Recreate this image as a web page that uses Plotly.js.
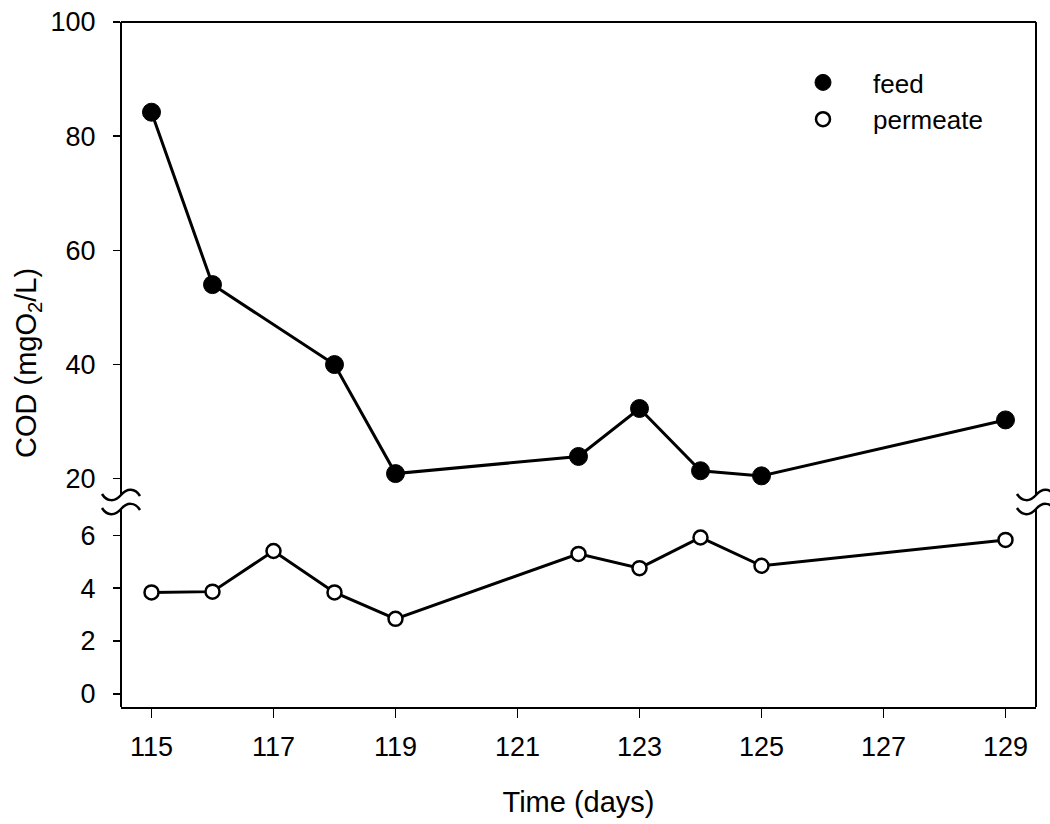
<!DOCTYPE html>
<html>
<head>
<meta charset="utf-8">
<script src="https://cdn.plot.ly/plotly-3.0.1.min.js"></script>
<style>html,body{margin:0;padding:0;background:#fff;}#chart{width:1050px;height:824px;}</style>
</head>
<body>
<div id="chart"></div>
<script>
// Data
const feedDays = [115, 116, 118, 119, 122, 123, 124, 125, 129];
const feedCOD = [84.2, 54.0, 40.0, 20.9, 23.9, 32.3, 21.4, 20.5, 30.3];
const permeateDays = [115, 116, 117, 118, 119, 122, 123, 124, 125, 129];
const permeateCOD = [3.84, 3.87, 5.41, 3.84, 2.84, 5.30, 4.76, 5.92, 4.85, 5.83];
const xTicks = [115, 117, 119, 121, 123, 125, 127, 129];
const topTicks = [20, 40, 60, 80, 100];
const bottomTicks = [0, 2, 4, 6];

const W = 1050, H = 824;
const L = 121, R = 1036, T = 22, B = 707;
const PW = R - L, PH = B - T;
const breakTop = 495, breakBot = 509;
const PX = px => (px - L) / PW;
const PY = py => (B - py) / PH;

function wave(cx, cy) {
  const p = [[cx - 19, cy - 1], [cx - 14, cy + 7], [cx - 6, cy + 7], [cx, cy],
             [cx + 6, cy - 7], [cx + 14, cy - 7], [cx + 19, cy + 1]];
  const q = p.map(([x, y]) => PX(x).toFixed(5) + ',' + PY(y).toFixed(5));
  return 'M' + q[0] + ' C' + q[1] + ' ' + q[2] + ' ' + q[3] + ' C' + q[4] + ' ' + q[5] + ' ' + q[6];
}
const lineStyle = {color: '#000', width: 2};
const shapes = [
  {type: 'line', xref: 'paper', yref: 'paper', x0: 0, x1: 1, y0: 1, y1: 1, line: lineStyle},
  {type: 'line', xref: 'paper', yref: 'paper', x0: 0, x1: 0, y0: PY(breakTop), y1: 1, line: lineStyle},
  {type: 'line', xref: 'paper', yref: 'paper', x0: 0, x1: 0, y0: 0, y1: PY(breakBot), line: lineStyle},
  {type: 'line', xref: 'paper', yref: 'paper', x0: 1, x1: 1, y0: PY(breakTop), y1: 1, line: lineStyle},
  {type: 'line', xref: 'paper', yref: 'paper', x0: 1, x1: 1, y0: 0, y1: PY(breakBot), line: lineStyle},
  {type: 'path', xref: 'paper', yref: 'paper', path: wave(L, breakTop), line: {color: '#000', width: 2.5}},
  {type: 'path', xref: 'paper', yref: 'paper', path: wave(L, breakBot), line: {color: '#000', width: 2.5}},
  {type: 'path', xref: 'paper', yref: 'paper', path: wave(R, breakTop), line: {color: '#000', width: 2.5}},
  {type: 'path', xref: 'paper', yref: 'paper', path: wave(R, breakBot), line: {color: '#000', width: 2.5}}
];

const font = {family: 'Liberation Sans, Arial, sans-serif', color: '#000'};
const F = s => Object.assign({size: s}, font);

const feedMarker = {symbol: 'circle', size: 18, color: '#000', line: {color: '#000', width: 1}};
const permMarker = {symbol: 'circle', size: 14, color: '#fff', line: {color: '#000', width: 2.5}};

const traces = [
  {x: feedDays, y: feedCOD, xaxis: 'x', yaxis: 'y2', mode: 'lines', showlegend: false,
   line: {color: '#000', width: 3}, hoverinfo: 'skip'},
  {x: permeateDays, y: permeateCOD, xaxis: 'x', yaxis: 'y', mode: 'lines', showlegend: false,
   line: {color: '#000', width: 3}, hoverinfo: 'skip'},
  {x: feedDays, y: feedCOD, xaxis: 'x', yaxis: 'y2', name: 'feed', mode: 'markers',
   cliponaxis: false, marker: feedMarker},
  {x: permeateDays, y: permeateCOD, xaxis: 'x', yaxis: 'y', name: 'permeate', mode: 'markers',
   cliponaxis: false, marker: permMarker}
];

const layout = {
  width: W, height: H,
  margin: {l: L, r: W - R, t: T, b: H - B, pad: 0},
  paper_bgcolor: '#fff', plot_bgcolor: '#fff',
  font: F(26),
  showlegend: true,
  legend: {
    x: PX(773), y: PY(59), xanchor: 'left', yanchor: 'top',
    bgcolor: 'rgba(0,0,0,0)', borderwidth: 0,
    font: F(26), itemwidth: 90, tracegroupgap: 0
  },
  xaxis: {
    range: [114.5, 129.5], anchor: 'y',
    tickmode: 'array', tickvals: xTicks, ticktext: xTicks.map(String),
    ticks: 'outside', ticklen: 9, tickwidth: 1.5, tickcolor: '#000',
    showline: true, linecolor: '#000', linewidth: 2,
    showgrid: false, zeroline: false,
    tickfont: F(27), ticklabelstandoff: 6,
    title: {text: 'Time (days)', font: F(29), standoff: 30}
  },
  yaxis: {
    domain: [0, PY(breakBot)], range: [-0.5, 7.0],
    tickmode: 'array', tickvals: bottomTicks, ticktext: bottomTicks.map(String),
    ticks: 'outside', ticklen: 7, tickwidth: 1.5, tickcolor: '#000',
    showline: false, showgrid: false, zeroline: false,
    tickfont: F(27), ticklabelstandoff: 12
  },
  yaxis2: {
    domain: [PY(breakTop), 1], range: [17.15, 100], anchor: 'x',
    tickmode: 'array', tickvals: topTicks, ticktext: topTicks.map(String),
    ticks: 'outside', ticklen: 7, tickwidth: 1.5, tickcolor: '#000',
    showline: false, showgrid: false, zeroline: false,
    tickfont: F(27), ticklabelstandoff: 12
  },
  shapes: shapes,
  annotations: [
    {
      text: 'COD (mgO<sub>2</sub>/L)', xref: 'paper', yref: 'paper',
      x: PX(28), y: PY(363), xanchor: 'center', yanchor: 'middle',
      textangle: -90, showarrow: false, font: F(29)
    }
  ]
};

Plotly.newPlot('chart', traces, layout, {displayModeBar: false, staticPlot: true});
</script>
</body>
</html>
